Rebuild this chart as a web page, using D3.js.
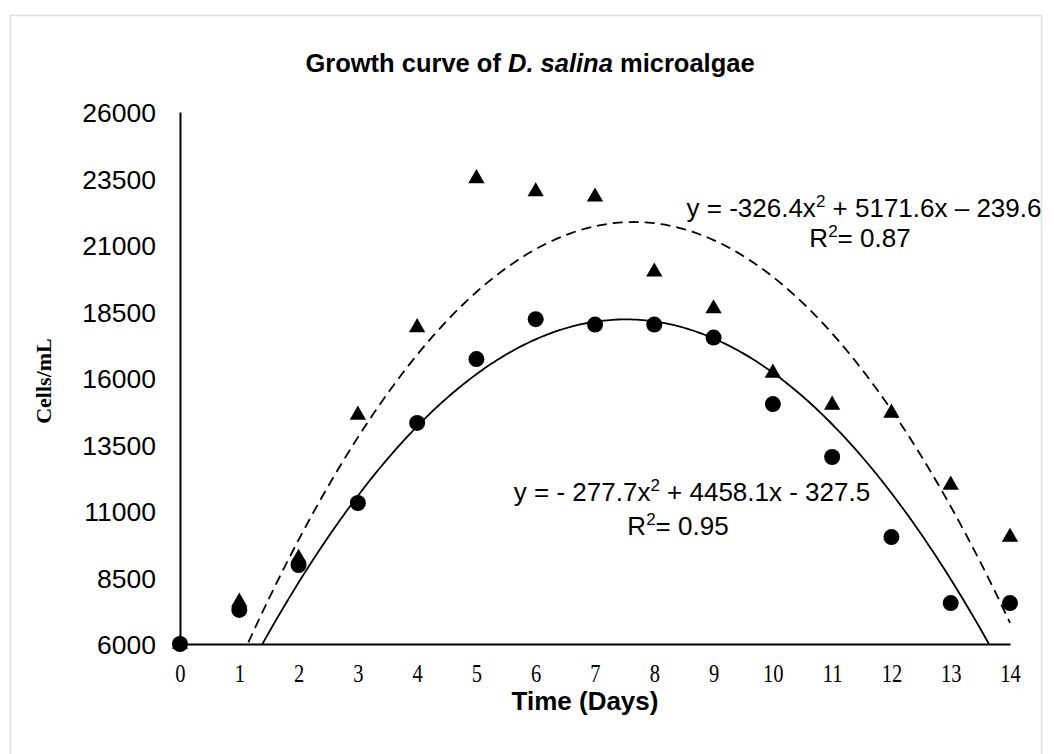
<!DOCTYPE html>
<html>
<head>
<meta charset="utf-8">
<script src="https://cdn.jsdelivr.net/npm/d3@7"></script>
<style>
  html, body { margin: 0; padding: 0; background: #fff; }
  svg { display: block; }
</style>
</head>
<body>
<svg id="chart" width="1054" height="754"></svg>
<script>
// ---- data ----
const days = [0, 1, 2, 3, 4, 5, 6, 7, 8, 9, 10, 11, 12, 13, 14];
const circleSeries = [6000, 7280, 8970, 11300, 14310, 16710, 18210, 18010, 18010, 17520, 15020, 13030, 10020, 7540, 7540];
const triangleSeries = [6000, 7580, 9230, 14610, 17900, 23500, 23010, 22810, 19990, 18610, 16190, 14985, 14683, 11977, 10020];
const yTicks = [6000, 8500, 11000, 13500, 16000, 18500, 21000, 23500, 26000];
// trend-line coefficients as drawn [a2, a1, a0]
const solidFit = [-325, 4886.4, -164];
const dashedFit = [-374, 5724.4, -39.8];

// ---- layout ----
const svg = d3.select('#chart');
const x = d3.scaleLinear().domain([0, 14]).range([180, 1010]);
const y = d3.scaleLinear().domain([6000, 26000]).range([644, 112]);

// outer frame
svg.append('rect')
  .attr('x', 10.5).attr('y', 15.5).attr('width', 1031).attr('height', 760)
  .attr('fill', 'none').attr('stroke', '#dcdfe5').attr('stroke-width', 1.5);

// title
const title = svg.append('text')
  .attr('x', 530).attr('y', 72).attr('text-anchor', 'middle')
  .attr('font-family', 'Liberation Sans, Arial, sans-serif')
  .attr('font-size', 25.5).attr('font-weight', 'bold').attr('fill', '#000');
title.append('tspan').text('Growth curve of  ');
title.append('tspan').attr('font-style', 'italic').text('D. salina');
title.append('tspan').text(' microalgae');

// clip for plot area
svg.append('defs').append('clipPath').attr('id', 'plotclip')
  .append('rect').attr('x', 180).attr('y', 100).attr('width', 840).attr('height', 544);

// y axis
const yAxis = d3.axisLeft(y).tickValues(yTicks).tickSize(0).tickPadding(24).tickFormat(d3.format('d'));
const gy = svg.append('g').attr('transform', 'translate(180,0)').call(yAxis);
gy.select('.domain').attr('stroke', '#000').attr('stroke-width', 2);
gy.selectAll('text')
  .attr('font-family', 'Liberation Sans, Arial, sans-serif')
  .attr('font-size', 26.5).attr('fill', '#000').attr('dy', '0.36em');

// x axis
const xAxis = d3.axisBottom(x).tickValues(days).tickSize(0).tickPadding(0).tickFormat(d3.format('d'));
const gx = svg.append('g').attr('transform', 'translate(0,644)').call(xAxis);
gx.select('.domain').attr('stroke', '#000').attr('stroke-width', 2);
gx.selectAll('text')
  .attr('font-family', 'Liberation Serif, Times New Roman, serif')
  .attr('font-size', 25).attr('fill', '#000')
  .attr('dy', 0).attr('y', 38)
  .attr('transform', 'scale(0.82,1)');

// axis titles
svg.append('text')
  .attr('x', 585).attr('y', 710).attr('text-anchor', 'middle')
  .attr('font-family', 'Liberation Sans, Arial, sans-serif')
  .attr('font-size', 26).attr('font-weight', 'bold').attr('fill', '#000')
  .text('Time (Days)');
svg.append('text')
  .attr('transform', 'translate(51,381) rotate(-90)')
  .attr('text-anchor', 'middle')
  .attr('font-family', 'Liberation Serif, Times New Roman, serif')
  .attr('font-size', 22).attr('font-weight', 'bold').attr('fill', '#000')
  .text('Cells/mL');

// trend lines
function poly(c) { return t => c[0] * t * t + c[1] * t + c[2]; }
const samples = d3.range(0, 14.0001, 0.05);
const line = f => d3.line().x(t => x(t)).y(t => y(f(t)))(samples);
const curves = svg.append('g').attr('clip-path', 'url(#plotclip)');
curves.append('path').attr('d', line(poly(dashedFit)))
  .attr('fill', 'none').attr('stroke', '#000').attr('stroke-width', 1.8)
  .attr('stroke-dasharray', '10,6');
curves.append('path').attr('d', line(poly(solidFit)))
  .attr('fill', 'none').attr('stroke', '#000').attr('stroke-width', 1.8);

// markers
const tri = d3.symbol().type(d3.symbolTriangle).size(115);
svg.append('g').selectAll('path').data(days).join('path')
  .attr('d', tri)
  .attr('transform', (d, i) => `translate(${x(d)},${y(triangleSeries[i])})`)
  .attr('fill', '#000');
svg.append('g').selectAll('circle').data(days).join('circle')
  .attr('cx', d => x(d)).attr('cy', (d, i) => y(circleSeries[i])).attr('r', 8)
  .attr('fill', '#000');

// equations
function eq(xc, yb, a, b) {
  const t = svg.append('text').attr('x', xc).attr('y', yb).attr('text-anchor', 'middle')
    .attr('font-family', 'Liberation Sans, Arial, sans-serif').attr('font-size', 26).attr('fill', '#000');
  t.append('tspan').text(a);
  t.append('tspan').attr('font-size', 17).attr('dy', -10).text('2');
  t.append('tspan').attr('dy', 10).text(b);
}
eq(864, 217, 'y = -326.4x', ' + 5171.6x \u2013 239.6');
eq(860, 247, 'R', '= 0.87');
eq(692, 501, 'y = - 277.7x', ' + 4458.1x - 327.5');
eq(678, 535, 'R', '= 0.95');
</script>
</body>
</html>
